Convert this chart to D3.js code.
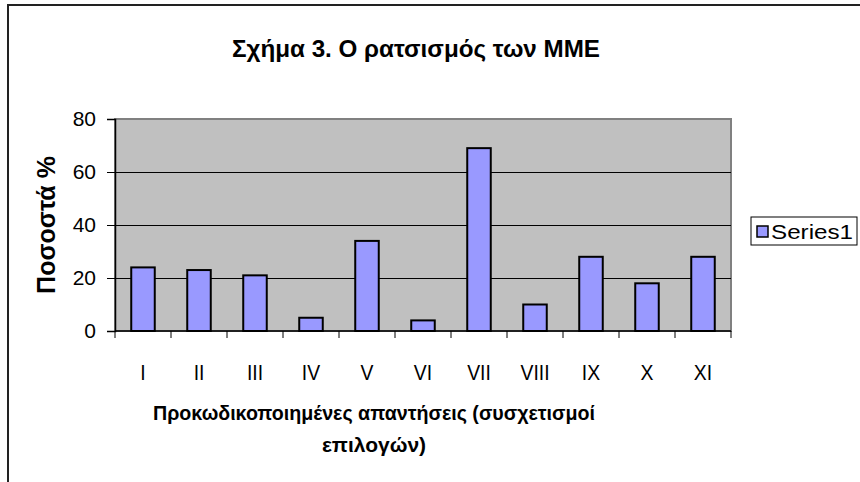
<!DOCTYPE html>
<html>
<head>
<meta charset="utf-8">
<script src="https://cdn.jsdelivr.net/npm/d3@7"></script>
<style>
  body { margin: 0; background: #fff; }
  svg { display: block; font-family: "Liberation Sans", Arial, sans-serif; }
</style>
</head>
<body>
<svg id="chart" width="860" height="482"></svg>
<script>
'use strict';

// data
const categories = ['I', 'II', 'III', 'IV', 'V', 'VI', 'VII', 'VIII', 'IX', 'X', 'XI'];
const series1 = [24, 23, 21, 5, 34, 4, 69, 10, 28, 18, 28];
const yTicks = [0, 20, 40, 60, 80];
const seriesName = 'Series1';

const titleText = 'Σχήμα 3. Ο ρατσισμός των ΜΜΕ';
const yTitle = 'Ποσοστά %';
const xTitleLines = ['Προκωδικοποιημένες απαντήσεις  (συσχετισμοί', 'επιλογών)'];

const svg = d3.select('#chart');

// outer chart frame (runs off the right/bottom edge)
svg.append('rect')
    .attr('x', 8).attr('y', 5)
    .attr('width', 870).attr('height', 500)
    .attr('fill', '#fff')
    .attr('stroke', '#222')
    .attr('stroke-width', 2);

const plot = {left: 115, top: 119, right: 731, bottom: 331};

const x = d3.scaleBand()
    .domain(categories)
    .range([plot.left, plot.right])
    .paddingInner(0.58)
    .paddingOuter(0.29);

const y = d3.scaleLinear()
    .domain([0, 80])
    .range([plot.bottom, plot.top]);

// plot area
svg.append('rect')
    .attr('x', plot.left).attr('y', plot.top)
    .attr('width', plot.right - plot.left)
    .attr('height', plot.bottom - plot.top)
    .attr('fill', '#c0c0c0')
    .attr('stroke', '#808080')
    .attr('stroke-width', 2);

// gridlines
svg.append('g')
    .selectAll('line')
    .data(yTicks.filter(d => d > 0 && d < 80))
    .enter().append('line')
    .attr('x1', plot.left).attr('x2', plot.right)
    .attr('y1', d => y(d) + 0.5).attr('y2', d => y(d) + 0.5)
    .attr('stroke', '#000')
    .attr('stroke-width', 1);

// bars
svg.append('g')
    .selectAll('rect')
    .data(series1)
    .enter().append('rect')
    .attr('x', (d, i) => x(categories[i]))
    .attr('y', d => y(d))
    .attr('width', x.bandwidth())
    .attr('height', d => plot.bottom - y(d))
    .attr('fill', '#9999ff')
    .attr('stroke', '#000')
    .attr('stroke-width', 2);

// y axis
const yAxis = svg.append('g')
    .attr('transform', `translate(${plot.left},0)`)
    .call(d3.axisLeft(y).tickValues(yTicks).tickSize(8).tickPadding(11));
yAxis.select('.domain').attr('stroke', '#000').attr('stroke-width', 1.5);
yAxis.selectAll('.tick line').attr('stroke', '#000');
yAxis.selectAll('.tick text')
    .attr('font-family', '"Liberation Sans", Arial, sans-serif')
    .attr('font-size', 21)
    .attr('fill', '#000');

// x axis, ticks at category boundaries
const step = x.step();
const bounds = d3.range(categories.length + 1).map(i => plot.left + i * step);
const xAxis = svg.append('g');
xAxis.append('line')
    .attr('x1', plot.left).attr('x2', plot.right)
    .attr('y1', plot.bottom).attr('y2', plot.bottom)
    .attr('stroke', '#000').attr('stroke-width', 1.5);
xAxis.selectAll('.bt')
    .data(bounds)
    .enter().append('line')
    .attr('class', 'bt')
    .attr('x1', d => d).attr('x2', d => d)
    .attr('y1', plot.bottom).attr('y2', plot.bottom + 7)
    .attr('stroke', '#000');
xAxis.selectAll('text')
    .data(categories)
    .enter().append('text')
    .attr('transform', d => `translate(${x(d) + x.bandwidth() / 2},380) scale(0.88,1)`)
    .attr('text-anchor', 'middle')
    .attr('font-size', 22)
    .text(d => d);

// titles
svg.append('text')
    .attr('x', 416).attr('y', 57)
    .attr('text-anchor', 'middle')
    .attr('font-size', 24)
    .attr('font-weight', 'bold')
    .attr('textLength', 368)
    .attr('lengthAdjust', 'spacingAndGlyphs')
    .text(titleText);

svg.append('text')
    .attr('transform', 'translate(55,225) rotate(-90)')
    .attr('text-anchor', 'middle')
    .attr('font-size', 25)
    .attr('font-weight', 'bold')
    .text(yTitle);

svg.append('g')
    .selectAll('text')
    .data(xTitleLines)
    .enter().append('text')
    .attr('x', 374)
    .attr('y', (d, i) => 420 + i * 32)
    .attr('text-anchor', 'middle')
    .attr('font-size', 21)
    .attr('font-weight', 'bold')
    .attr('textLength', (d, i) => i === 0 ? 442 : null)
    .attr('lengthAdjust', 'spacingAndGlyphs')
    .text(d => d);

// legend
const legend = svg.append('g').attr('transform', 'translate(751,217)');
legend.append('rect')
    .attr('width', 106).attr('height', 28)
    .attr('fill', '#fff')
    .attr('stroke', '#000')
    .attr('stroke-width', 1);
legend.append('rect')
    .attr('x', 6).attr('y', 9)
    .attr('width', 11).attr('height', 11)
    .attr('fill', '#9999ff')
    .attr('stroke', '#000')
    .attr('stroke-width', 1.5);
legend.append('text')
    .attr('x', 20).attr('y', 22)
    .attr('font-size', 21)
    .attr('textLength', 82)
    .attr('lengthAdjust', 'spacingAndGlyphs')
    .text(seriesName);
</script>
</body>
</html>
